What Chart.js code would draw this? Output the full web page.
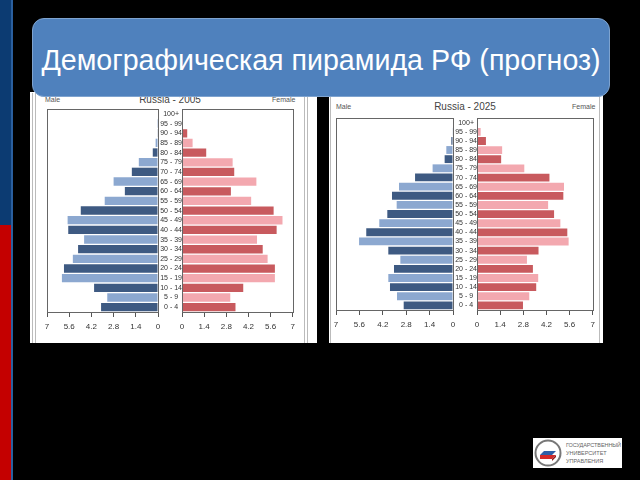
<!DOCTYPE html>
<html lang="ru">
<head>
    <meta charset="UTF-8">
    <title>Демографическая пирамида РФ (прогноз)</title>
    <script src="https://cdn.jsdelivr.net/npm/chart.js"></script>
    <style>
        * { margin: 0; padding: 0; box-sizing: border-box; }
        body { width: 640px; height: 480px; background: #000; position: relative; overflow: hidden; font-family: "Liberation Sans", Arial, sans-serif; }
        .abs { position: absolute; }
        .stripe-blue { left: 0; top: 0; width: 11px; height: 225px; background: #0c3b72; }
        .stripe-red { left: 0; top: 225px; width: 11px; height: 255px; background: #c40000; }
        .stripe-line { left: 11px; top: 0; width: 2px; height: 480px; background: #2a5f9e; }
        .header {
            left: 32px; top: 18px; width: 578px; height: 79px;
            background: #4f81bd; border: 1px solid #7ea3cf; border-radius: 12px;
            color: #fff; font-size: 28.6px; text-align: center; line-height: 83px;
            z-index: 5;
        }
        .panel { background: #fff; }
        .frame { border-left: 4px double #bbb; border-right: 4px double #bbb; }
        .ptitle { font-size: 10px; color: #444; text-align: center; }
        .pside { font-size: 7px; color: #555; }
        canvas { position: absolute; }
        .logo { left: 533px; top: 438px; width: 89px; height: 30px; background: #fff; }
    </style>
</head>
<body>
    <div class="abs stripe-blue"></div>
    <div class="abs stripe-red"></div>
    <div class="abs stripe-line"></div>

    <div class="abs header">Демографическая пирамида РФ (прогноз)</div>

    <!-- 2005 -->
    <div class="abs panel" style="left:30px; top:92px; width:287px; height:251px;"></div>
    <div class="abs frame" style="left:32px; top:93px; width:276px; height:250px;"></div>
    <div class="abs pside" style="left:45px; top:96px;">Male</div>
    <div class="abs ptitle" style="left:120px; top:94px; width:100px;">Russia - 2005</div>
    <div class="abs pside" style="left:272px; top:96px;">Female</div>
    <canvas id="male2005" style="left:40px; top:105px;" width="122" height="236"></canvas>
    <canvas id="female2005" style="left:158px; top:105px;" width="142" height="236"></canvas>

    <!-- 2025 -->
    <div class="abs panel" style="left:329px; top:92px; width:274px; height:251px;"></div>
    <div class="abs" style="left:330px; top:96px; width:270px; height:247px; border-top:1px solid #999; border-left:1px solid #bbb; border-right:1px solid #bbb;"></div>
    <div class="abs pside" style="left:336px; top:103px;">Male</div>
    <div class="abs ptitle" style="left:415px; top:101px; width:100px;">Russia - 2025</div>
    <div class="abs pside" style="left:572px; top:103px;">Female</div>
    <canvas id="male2025" style="left:329px; top:114px;" width="128" height="225"></canvas>
    <canvas id="female2025" style="left:453px; top:114px;" width="147" height="225"></canvas>

    <div class="abs logo">
        <svg width="89" height="30" viewBox="0 0 89 30">
            <circle cx="15" cy="15" r="12.5" fill="#fff" stroke="#777" stroke-width="2"/>
            <polygon points="7,17 19,17 23,13 11,13" fill="#2f5fa8"/>
            <polygon points="7,21 19,21 23,17 19,17 7,17" fill="#d42a2a"/>
            <polygon points="19,21 23,17 23,19 19,23" fill="#8a1a1a"/>
            <text x="33" y="9" font-size="5.5" fill="#666" textLength="55">ГОСУДАРСТВЕННЫЙ</text>
            <text x="33" y="17" font-size="5.5" fill="#666">УНИВЕРСИТЕТ</text>
            <text x="33" y="25" font-size="5.5" fill="#666">УПРАВЛЕНИЯ</text>
        </svg>
    </div>

    <script>
        const ageGroups = ['0 - 4', '5 - 9', '10 - 14', '15 - 19', '20 - 24', '25 - 29', '30 - 34',
            '35 - 39', '40 - 44', '45 - 49', '50 - 54', '55 - 59', '60 - 64', '65 - 69',
            '70 - 74', '75 - 79', '80 - 84', '85 - 89', '90 - 94', '95 - 99', '100+'];
        const xTicks = [0, 1.4, 2.8, 4.2, 5.6, 7];

        // population share, %
        const male2005 = [3.59, 3.2, 4.03, 6.06, 5.93, 5.37, 5.04, 4.66, 5.66, 5.7, 4.87, 3.36, 2.09, 2.8, 1.65, 1.21, 0.33, 0.15, 0.04, 0.01, 0];
        const female2005 = [3.38, 3.05, 3.87, 5.87, 5.87, 5.41, 5.1, 4.74, 5.98, 6.35, 5.79, 4.37, 3.09, 4.7, 3.3, 3.2, 1.53, 0.67, 0.33, 0.05, 0.01];
        const male2025 = [2.95, 3.35, 3.77, 3.87, 3.53, 3.15, 3.87, 5.62, 5.19, 4.41, 3.93, 3.37, 3.65, 3.23, 2.27, 1.22, 0.5, 0.4, 0.1, 0.02, 0];
        const female2025 = [2.78, 3.16, 3.58, 3.7, 3.38, 3.02, 3.72, 5.54, 5.46, 5.04, 4.66, 4.3, 5.22, 5.26, 4.38, 2.86, 1.46, 1.52, 0.54, 0.22, 0.06];

        Chart.defaults.font.family = '"Liberation Sans", Arial, sans-serif';
        Chart.defaults.animation = false;

        // frame around the plot area
        const boxPlugin = {
            id: 'box',
            afterDraw(chart) {
                const a = chart.chartArea;
                const ctx = chart.ctx;
                ctx.save();
                ctx.strokeStyle = '#666';
                ctx.lineWidth = 1;
                ctx.strokeRect(Math.round(a.left) + 0.5, Math.round(a.top) + 0.5,
                    Math.round(a.right - a.left), Math.round(a.bottom - a.top));
                ctx.restore();
            }
        };

        function barColors(dark, light) {
            return ageGroups.map((g, i) => i % 2 === 0 ? dark : light);
        }

        function makeSide(id, values, isMale, pad) {
            const ctx = document.getElementById(id).getContext('2d');
            return new Chart(ctx, {
                type: 'bar',
                plugins: [boxPlugin],
                data: {
                    labels: ageGroups,
                    datasets: [{
                        data: values,
                        backgroundColor: isMale ? barColors('#3e5a82', '#8ca8d0') : barColors('#c85a5e', '#f3a8af'),
                        barPercentage: 0.86,
                        categoryPercentage: 1
                    }]
                },
                options: {
                    indexAxis: 'y',
                    responsive: false,
                    layout: { padding: pad },
                    plugins: { legend: { display: false }, tooltip: { enabled: false } },
                    scales: {
                        x: {
                            reverse: isMale,
                            min: 0,
                            max: 7,
                            afterBuildTicks: scale => { scale.ticks = xTicks.map(v => ({ value: v })); },
                            ticks: {
                                padding: 5,
                                color: '#333',
                                font: { size: 8 },
                                maxRotation: 0,
                                callback: v => String(v)
                            },
                            grid: { drawOnChartArea: false, drawTicks: true, tickLength: 5, color: '#555' },
                            border: { display: true, color: '#555' }
                        },
                        y: {
                            reverse: true,
                            display: !isMale,
                            afterFit: scale => { scale.width = isMale ? 0 : 24; },
                            ticks: { padding: 0, color: '#333', font: { size: 7 }, crossAlign: 'center', autoSkip: false },
                            grid: { display: false, drawTicks: false },
                            border: { display: false }
                        }
                    }
                }
            });
        }

        makeSide('male2005', male2005, true, { left: 7, right: 4, top: 4, bottom: 4.4 });
        makeSide('female2005', female2005, false, { left: 0, right: 7, top: 4, bottom: 4.4 });
        makeSide('male2025', male2025, true, { left: 7, right: 4, top: 4, bottom: 4.4 });
        makeSide('female2025', female2025, false, { left: 0, right: 7, top: 4, bottom: 4.4 });
    </script>
</body>
</html>
